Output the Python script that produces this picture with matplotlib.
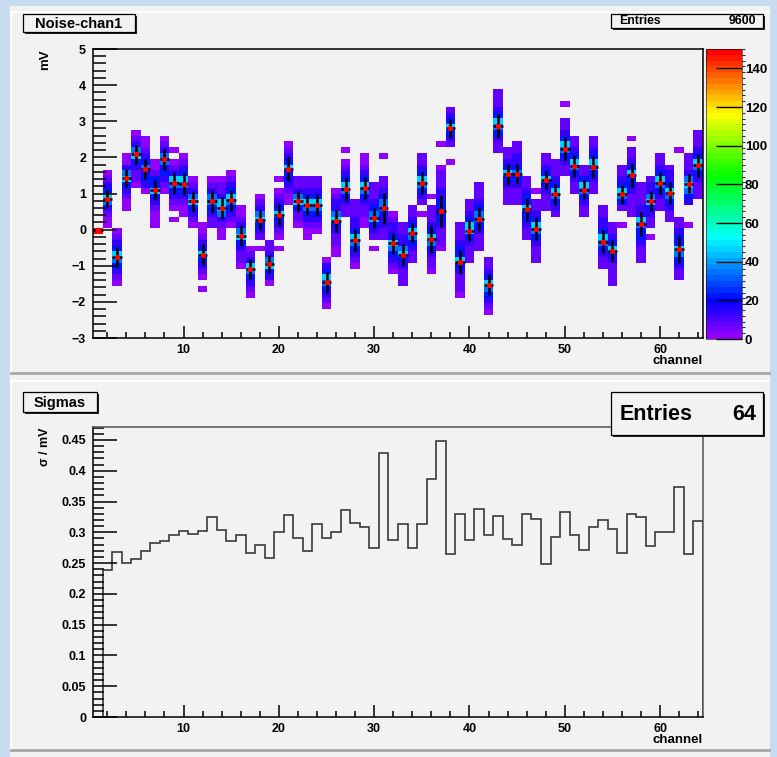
import colorsys
import numpy as np
import matplotlib
matplotlib.use('Agg')
import matplotlib.pyplot as plt
from matplotlib.colors import ListedColormap, BoundaryNorm
from matplotlib.patches import Rectangle
from matplotlib.lines import Line2D
from matplotlib.ticker import MultipleLocator, FormatStrFormatter

plt.rcParams['font.family'] = ['Liberation Sans', 'DejaVu Sans']
plt.rcParams['font.weight'] = 'bold'

W, H = 777, 757

# ---- data ----
channels = np.arange(1, 65)

# profile means (mV) per channel
means = [0.0, 0.86, -0.76, 1.44, 2.08, 1.68, 1.10, 1.95, 1.29, 1.26,
         0.78, -0.69, 0.78, 0.59, 0.81, -0.17, -1.09, 0.27, -0.95, 0.41,
         1.68, 0.78, 0.68, 0.68, -1.46, 0.24, 1.12, -0.30, 1.16, 0.32,
         0.59, -0.38, -0.70, -0.08, 1.29, -0.26, 0.51, 2.81, -0.89, -0.03,
         0.29, -1.52, 2.87, 1.53, 1.53, 0.56, 0.03, 1.36, 0.98, 2.23,
         1.76, 1.11, 1.74, -0.33, -0.59, 0.98, 1.52, 0.16, 0.78, 1.30,
         1.02, -0.54, 1.27, 1.78]

# sigma per channel (mV)
sigmas = [0.0, 0.239, 0.268, 0.250, 0.256, 0.270, 0.283, 0.286, 0.296, 0.302,
          0.297, 0.302, 0.325, 0.304, 0.286, 0.296, 0.267, 0.280, 0.259, 0.301,
          0.328, 0.291, 0.270, 0.313, 0.291, 0.301, 0.336, 0.315, 0.309, 0.275,
          0.429, 0.287, 0.313, 0.275, 0.313, 0.387, 0.448, 0.264, 0.329, 0.288,
          0.338, 0.295, 0.326, 0.289, 0.280, 0.329, 0.321, 0.249, 0.292, 0.333,
          0.295, 0.272, 0.309, 0.320, 0.305, 0.267, 0.329, 0.325, 0.277, 0.300,
          0.300, 0.373, 0.265, 0.319]

# 2D histogram: per channel, first y-bin index (50 bins, -3..5 mV) and
# colour level of each bin going upward
col_start = [18, 19, 9, 22, 26, 25, 19, 25, 20, 21,
             19, 8, 19, 17, 19, 12, 7, 15, 9, 15,
             23, 19, 17, 18, 5, 14, 21, 12, 19, 15,
             17, 11, 9, 13, 21, 11, 15, 30, 7, 13,
             15, 4, 32, 23, 23, 17, 13, 22, 21, 28,
             25, 21, 25, 12, 9, 19, 21, 13, 17, 22,
             20, 10, 19, 24]
col_levels = ["9", "1123564321", "1234564321", "1123465311", "1223465321",
              "1344543211", "111234644211", "1234455321", "1012345632101", "11234564321",
              "123465321", "101234643211", "223455321", "11235663221", "1234564321",
              "12234653211", "123456321", "1023465321", "13465322", "1012346432101",
              "11234464321", "122465322", "11234564322", "1234564322", "123456431",
              "112234653321", "223456432101", "123456433222", "1122345643211", "102346543222",
              "223345543220001", "12345643321", "22234653322", "2234564322", "10234564322",
              "12234564322201", "1222344443322210001", "1002346432", "1222346443222", "22234664322",
              "222345543222", "1234564322", "22345643222", "2223464322", "22234543322",
              "22344644322", "2223456432201", "2223464322", "2345643222", "2234564322001",
              "2234564322", "223456422", "2234564322", "22345643322", "22223464322",
              "10024564322", "22223446432201", "22234456332222", "10223465332", "2234564322",
              "2234564332", "22345644322000000000001", "1000345653222", "222345643222"]
level_counts = {'0': 0, '1': 2, '2': 7, '3': 13, '4': 21, '5': 33, '6': 46, '9': 150}

x_edges = np.arange(0.5, 65.5, 1.0)
y_edges = np.linspace(-3, 5, 51)
counts = np.zeros((50, 64))
for i, (k0, lev) in enumerate(zip(col_start, col_levels)):
    for j, c in enumerate(lev):
        counts[k0 + j, i] = level_counts[c]


def px(x0, y0, x1, y1):
    return [x0 / W, 1 - y1 / H, (x1 - x0) / W, (y1 - y0) / H]


def fx(x):
    return x / W


def fy(y):
    return 1 - y / H


# ROOT "pretty" palette: hue 280 -> 0
pal = [colorsys.hls_to_rgb((280 - (i + 1) * 5.6) / 360, 0.5, 1.0) for i in range(49)]
pal.append((1.0, 0.0, 0.0))
cmap = ListedColormap(pal)
norm = BoundaryNorm(np.linspace(0, 150, 51), 50)

fig = plt.figure(figsize=(W / 100, H / 100), dpi=100, facecolor='#c9dbf1')

# canvas and pads
bg = '#f2f2f2'
fig.add_artist(Rectangle((fx(10), 0), fx(760), fy(6), transform=fig.transFigure,
                         facecolor=bg, edgecolor='none', zorder=-5))
for (y0, y1) in [(12, 373), (381, 750)]:
    fig.add_artist(Line2D([fx(11), fx(769)], [fy(y0), fy(y0)], color='white', lw=1.5))
    fig.add_artist(Line2D([fx(11), fx(11)], [fy(y0), fy(y1)], color='white', lw=1.5))
    fig.add_artist(Line2D([fx(11), fx(769)], [fy(y1), fy(y1)], color='#a8a8a8', lw=2))

tick_kw = dict(labelsize=9, width=1.1, color='black')

# ---- top panel ----
ax1 = fig.add_axes(px(93, 49, 703, 338), facecolor=bg)
mesh = ax1.pcolormesh(x_edges, y_edges, np.ma.masked_equal(counts, 0),
                      cmap=cmap, norm=norm, zorder=1)
ax1.errorbar(channels, means, yerr=sigmas, xerr=0.5, fmt='o', ms=3.0,
             mfc='red', mec='red', ecolor='black', elinewidth=1.8, capsize=0,
             zorder=3)
ax1.set_xlim(0.5, 64.5)
ax1.set_ylim(-3, 5)
ax1.xaxis.set_major_locator(MultipleLocator(10))
ax1.xaxis.set_minor_locator(MultipleLocator(2))
ax1.yaxis.set_major_locator(MultipleLocator(1))
ax1.yaxis.set_minor_locator(MultipleLocator(0.2))
ax1.tick_params(axis='y', which='major', direction='in', length=17, pad=5, **tick_kw)
ax1.tick_params(axis='y', which='minor', direction='in', length=9, width=1.1)
ax1.tick_params(axis='x', which='major', direction='in', length=9, pad=4, **tick_kw)
ax1.tick_params(axis='x', which='minor', direction='in', length=4, width=1.1)
for s in ax1.spines.values():
    s.set_linewidth(1.1)

cax = fig.add_axes(px(706, 49, 742, 339))
cb = fig.colorbar(mesh, cax=cax, ticks=np.arange(0, 150, 20))
cb.outline.set_linewidth(0.4)
cax.tick_params(direction='in', length=19, width=1, labelsize=9.5, pad=2,
                right=True, left=False, color='black')

fig.text(fx(45), fy(49), 'mV', rotation=90, ha='center', va='top', fontsize=9.5)
fig.text(fx(703), fy(361), 'channel', ha='right', va='center', fontsize=9.5)

# ---- bottom panel ----
ax2 = fig.add_axes(px(93, 427, 703, 717), facecolor=bg)
ax2.stairs(sigmas, x_edges, color='#3a3a3a', lw=1.2)
ax2.set_xlim(0.5, 64.5)
ax2.set_ylim(0, 0.471)
ax2.xaxis.set_major_locator(MultipleLocator(10))
ax2.xaxis.set_minor_locator(MultipleLocator(2))
ax2.yaxis.set_major_locator(MultipleLocator(0.05))
ax2.yaxis.set_minor_locator(MultipleLocator(0.01))
ax2.yaxis.set_major_formatter(FormatStrFormatter('%g'))
ax2.tick_params(axis='y', which='major', direction='in', length=17, pad=5, **tick_kw)
ax2.tick_params(axis='y', which='minor', direction='in', length=8, width=1.1)
ax2.tick_params(axis='x', which='major', direction='in', length=9, pad=4, **tick_kw)
ax2.tick_params(axis='x', which='minor', direction='in', length=4, width=1.1)
for name, s in ax2.spines.items():
    s.set_linewidth(1.1)
    s.set_color('black' if name in ('left', 'bottom') else '#555555')

fig.text(fx(45), fy(427), 'σ / mV', rotation=90, ha='center', va='top', fontsize=9)
fig.text(fx(703), fy(740), 'channel', ha='right', va='center', fontsize=9.5)


# ---- title and stats boxes ----
def box(x0, y0, x1, y1):
    fig.add_artist(Rectangle((fx(x0 + 2), fy(y1 + 2)), fx(x1 - x0), (y1 - y0) / H,
                             transform=fig.transFigure, facecolor='#222222',
                             edgecolor='none', zorder=5))
    fig.add_artist(Rectangle((fx(x0), fy(y1)), fx(x1 - x0), (y1 - y0) / H,
                             transform=fig.transFigure, facecolor=bg,
                             edgecolor='black', lw=0.9, zorder=6))


box(23, 14, 135, 32)
fig.text(fx(79), fy(23.5), 'Noise-chan1', ha='center', va='center', fontsize=10.5, zorder=7)
box(611, 14, 763, 28)
fig.text(fx(619), fy(21.5), 'Entries', ha='left', va='center', fontsize=8.8, zorder=7)
fig.text(fx(756), fy(21.5), '9600', ha='right', va='center', fontsize=8.8, zorder=7)

box(23, 392, 97, 412)
fig.text(fx(60), fy(402.5), 'Sigmas', ha='center', va='center', fontsize=10.5, zorder=7)
box(611, 392, 763, 435)
fig.text(fx(620), fy(414), 'Entries', ha='left', va='center', fontsize=15.5, zorder=7)
fig.text(fx(756), fy(414), '64', ha='right', va='center', fontsize=15.5, zorder=7)

fig.savefig('out.png', dpi=100, facecolor=fig.get_facecolor())
